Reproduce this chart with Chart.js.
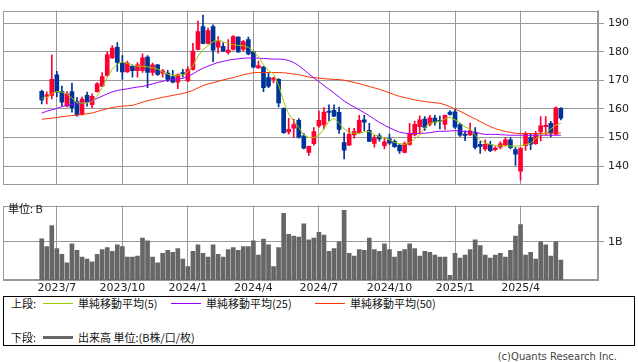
<!DOCTYPE html>
<html><head><meta charset="utf-8">
<script src="https://cdn.jsdelivr.net/npm/chart.js@4/dist/chart.umd.min.js"></script>
<style>
html,body{margin:0;padding:0;background:#fff;}
body{width:638px;height:362px;overflow:hidden;position:relative;font-family:"DejaVu Sans",sans-serif;}
#w1{position:absolute;left:0;top:0;width:638px;height:195px;}
#w2{position:absolute;left:0;top:195px;width:638px;height:100px;}
.t{position:absolute;font-family:"Noto Sans CJK JP",sans-serif;font-size:11px;line-height:13px;color:#111;white-space:nowrap;}
.ln{position:absolute;height:1px;width:30px;}
#box{position:absolute;left:3px;top:296px;width:630px;height:48px;border:1px solid #000;}
#copy{position:absolute;right:21px;top:350px;font-family:"DejaVu Sans",sans-serif;font-size:10px;line-height:13px;color:#444;}
</style></head>
<body>
<div id="w1"><canvas id="c1" width="638" height="195"></canvas></div>
<div id="w2"><canvas id="c2" width="638" height="100"></canvas></div>
<div class="t" style="left:8px;top:202px;">単位: B</div>
<div id="box"></div>
<div class="t" style="left:11px;top:297px;">上段:</div>
<div class="ln" style="left:43px;top:303px;background:#99cc00;"></div>
<div class="t" style="left:78px;top:297px;">単純移動平均(5)</div>
<div class="ln" style="left:171px;top:303px;background:#9900ff;"></div>
<div class="t" style="left:206px;top:297px;">単純移動平均(25)</div>
<div class="ln" style="left:315px;top:303px;background:#ff3300;"></div>
<div class="t" style="left:350px;top:297px;">単純移動平均(50)</div>
<div class="t" style="left:11px;top:331px;">下段:</div>
<div class="ln" style="left:43px;top:336px;height:3px;background:#666;"></div>
<div class="t" style="left:78px;top:331px;">出来高 単位:(B株/口/枚)</div>
<div id="copy">(c)Quants Research Inc.</div>
<script>
// Weekly data, index 0 = week of 2023/6/12 ... index 103 = week of 2025/6/2
const monthTickIndex = [3, 16, 29, 42, 55, 69, 82, 95];
const monthTickLabels = ['2023/7','2023/10','2024/1','2024/4','2024/7','2024/10','2025/1','2025/4'];
const priceTicks = [140, 150, 160, 170, 180, 190];
const volumeTicks = [1];
const volumeTickLabels = ['1B'];

const opens = [166.2,164.4,164.8,172.0,166.2,161.0,166.1,162.6,158.0,164.8,161.5,166.1,168.0,171.8,177.9,181.6,176.1,173.0,175.0,173.4,
173.4,178.2,172.8,175.5,172.6,172.6,171.4,169.4,172.8,169.8,173.9,180.9,188.9,183.0,188.9,181.7,182.0,179.8,180.9,185.2,
180.9,184.3,180.0,174.4,174.7,171.0,170.4,170.4,160.2,152.0,153.3,156.0,150.6,144.8,147.8,154.1,154.5,159.3,159.5,158.8,
148.2,147.3,150.9,151.8,156.2,152.5,147.9,150.6,147.1,149.5,148.7,147.3,144.8,147.6,150.9,153.8,156.5,154.7,156.8,156.0,
154.6,158.9,159.0,154.5,151.2,150.9,151.9,147.6,146.0,147.6,145.7,146.6,147.4,149.2,145.8,138.2,147.1,150.0,147.8,152.0,
153.8,155.0,151.2,160.2];
const highs = [166.6,166.0,179.0,173.2,168.0,166.1,169.1,164.0,164.2,165.9,165.3,169.3,172.8,180.0,182.2,183.3,178.7,176.8,175.5,176.3,
179.3,178.7,176.1,175.7,173.9,173.6,173.6,172.3,173.9,174.8,183.0,190.8,192.9,188.4,189.5,185.4,183.2,184.3,185.7,185.4,
184.1,185.2,180.3,176.8,175.0,172.8,171.2,170.7,160.4,156.7,156.4,156.6,151.4,147.0,153.5,159.3,160.5,161.5,161.5,160.7,
151.6,153.3,153.2,157.8,157.8,155.0,150.8,151.4,149.8,151.2,149.2,147.6,148.5,155.0,155.8,157.6,157.3,157.8,157.8,157.5,
157.9,159.4,160.0,155.1,152.3,155.1,153.5,148.7,149.2,148.7,146.8,148.5,150.0,150.0,146.6,146.4,152.0,151.4,152.2,157.3,
157.3,155.7,160.8,160.5];
const lows = [161.8,161.8,163.5,164.3,161.2,160.7,158.9,157.5,157.8,161.0,160.5,165.9,167.8,171.4,177.7,173.2,170.4,172.8,171.2,171.2,
172.8,167.5,171.8,171.8,171.2,169.6,169.1,167.1,171.2,169.6,173.6,180.7,182.8,182.8,176.6,179.6,180.3,179.2,180.6,179.8,
180.3,179.0,174.4,174.2,166.1,167.5,169.1,160.7,151.4,151.2,150.0,149.8,146.0,143.7,147.3,153.5,153.0,155.9,157.3,151.4,
142.5,147.1,149.8,151.6,152.4,148.5,146.6,148.7,146.0,147.6,146.5,144.4,144.6,147.3,150.6,151.5,152.5,154.1,154.3,153.0,
152.8,157.8,153.2,150.4,148.9,150.7,146.0,144.4,145.3,145.0,145.3,146.0,147.1,146.0,140.2,135.0,145.5,145.7,147.6,148.8,
150.9,150.2,150.9,156.2];
const closes = [163.2,165.0,170.4,165.9,162.4,165.3,160.5,157.8,163.5,162.6,164.4,168.8,171.4,179.1,181.4,176.3,173.0,176.1,173.4,175.5,
177.9,172.8,175.5,172.1,173.4,170.4,169.4,172.1,172.3,173.9,180.3,187.1,183.0,187.5,180.6,183.6,180.3,180.7,185.4,180.0,
183.6,179.3,174.7,175.2,167.5,168.0,170.8,162.1,151.7,152.9,154.5,150.0,146.3,146.9,152.1,156.0,158.9,158.8,157.5,152.8,
145.6,151.1,152.2,156.0,155.4,148.6,150.0,149.5,148.5,148.0,146.8,145.3,147.9,151.2,154.6,156.2,153.5,156.9,155.4,155.7,
157.8,158.1,153.6,150.8,150.7,152.4,146.5,146.9,147.6,145.4,146.3,147.8,149.2,146.4,144.2,146.3,151.2,147.7,151.0,154.1,
154.3,151.7,160.4,156.8];
const volumes = [1.08,0.875,1.425,0.825,0.675,0.45,0.95,0.775,0.6,0.55,0.475,0.675,0.8,0.85,0.75,0.925,0.875,0.6,0.6,0.625,
1.1,1.025,0.6,0.45,0.7,0.775,0.725,0.825,0.55,0.35,0.75,0.925,0.7,0.6,0.925,0.675,0.6,0.8,0.85,0.775,
0.875,0.875,1.025,0.65,1.075,0.925,0.35,0.85,1.75,1.2,1.15,1.125,1.475,1.05,1.1,1.25,1.175,0.75,0.825,1.0,
1.825,0.7,0.625,0.8,0.775,1.1,0.8,0.75,0.95,0.8,0.6,0.75,0.8,0.95,0.825,0.625,0.75,0.725,0.65,0.6,
0.6,0.125,0.7,0.575,0.65,0.8,1.05,0.9,0.65,0.575,0.65,0.7,0.6,0.775,1.15,1.45,0.65,0.725,0.55,1.0,
0.925,0.625,1.0,0.525];
const ma5 = [163.7,164.0,165.5,166.1,166.0,165.3,163.8,162.2,162.1,162.1,162.6,164.5,167.5,171.0,174.0,175.7,176.6,176.0,175.2,175.0,
175.0,174.8,174.5,174.0,173.0,172.2,171.8,171.8,171.9,173.0,175.2,178.5,180.8,182.2,183.6,184.3,183.6,183.0,182.5,182.3,
182.2,181.6,180.3,178.3,175.5,173.5,172.3,168.5,162.6,158.3,155.7,153.5,150.8,150.0,150.0,150.8,153.0,155.7,156.7,155.0,
153.0,151.8,151.5,151.4,152.0,152.1,151.0,150.3,149.8,149.2,148.3,147.8,147.6,148.2,149.5,150.8,153.5,155.0,155.4,155.6,
156.5,157.1,156.2,155.1,153.7,153.0,150.8,149.0,148.0,147.6,147.2,147.1,147.0,147.0,147.0,147.1,147.5,148.0,149.6,151.0,
151.6,153.0,154.3,155.1];
const ma25 = [158.6,159.2,159.7,160.2,160.8,161.4,161.6,161.8,162.1,162.5,163.0,163.7,164.5,165.3,166.0,166.5,166.8,167.1,167.4,167.7,
167.9,168.3,168.8,169.3,169.7,170.1,170.3,170.5,170.7,171.4,172.3,173.4,174.3,175.0,175.7,176.3,176.7,177.1,177.4,177.6,
177.8,177.9,177.9,177.8,177.7,177.6,177.5,177.5,177.4,177.0,176.3,175.2,173.8,172.3,170.9,169.6,168.2,166.9,165.6,164.2,
162.8,161.7,160.7,159.7,158.7,157.6,156.4,155.3,154.3,153.4,152.6,151.9,151.5,151.4,151.4,151.4,151.5,151.7,152.0,152.2,
152.2,152.3,152.4,152.3,152.1,152.0,151.8,151.4,151.1,151.1,151.1,151.0,150.9,150.8,150.8,150.8,150.8,150.8,150.8,150.8,
150.8,150.8,150.8,150.8];
const ma50 = [156.4,156.6,156.8,157.0,157.3,157.5,157.7,157.9,158.1,158.3,158.6,159.1,159.6,160.1,160.5,160.8,161.0,161.1,161.3,161.8,
162.4,162.9,163.3,163.7,164.1,164.4,164.8,165.1,165.4,165.9,166.5,167.4,168.2,168.8,169.2,169.7,170.2,170.6,171.0,171.5,
172.0,172.4,172.7,172.8,172.8,172.8,172.8,172.8,172.7,172.5,172.3,172.0,171.6,171.2,171.0,170.8,170.6,170.5,170.4,170.3,
170.1,169.7,169.3,168.9,168.4,167.9,167.4,166.9,166.3,165.7,165.0,164.4,164.0,163.6,163.2,162.9,162.6,162.4,162.2,162.0,
161.5,160.8,160.0,159.2,158.3,157.4,156.5,155.6,154.7,153.8,153.1,152.6,152.1,151.8,151.5,151.4,151.4,151.4,151.4,151.4,
151.5,151.5,151.6,151.6];

const UP = '#ff0033', DOWN = '#003399', GRID = '#999999';
const xMin = -7.68, xMax = 110.37;
const candleColor = opens.map((o, i) => closes[i] >= o ? UP : DOWN);

const frame = {
  id: 'frame',
  beforeDatasetsDraw(chart) {
    const a = chart.chartArea, c = chart.ctx;
    c.save(); c.strokeStyle = GRID; c.lineWidth = 1;
    c.strokeRect(Math.round(a.left) + 0.5, Math.round(a.top) + 0.5, Math.round(a.right - a.left) - 1, Math.round(a.bottom - a.top) - 1);
    c.restore();
  }
};
const tickFont = {family: 'DejaVu Sans', size: 11};

function xScale(showLabels, h) {
  return {
    type: 'linear', min: xMin, max: xMax, offset: false,
    afterBuildTicks: s => { s.ticks = monthTickIndex.map(v => ({value: v})); },
    afterFit: s => { s.height = h; },
    ticks: {display: showLabels, autoSkip: false, maxRotation: 0, padding: 2, font: tickFont, color: '#222',
      callback: (v) => { const k = monthTickIndex.indexOf(v); return k >= 0 ? monthTickLabels[k] : ''; }},
    grid: {color: GRID, drawTicks: false, offset: false},
    border: {display: true, color: GRID}
  };
}

const pt = arr => arr.map((v, i) => ({x: i, y: v}));

new Chart(document.getElementById('c1'), {
  type: 'bar',
  data: {datasets: [
    {type: 'line', data: pt(ma5), borderColor: '#99cc00', borderWidth: 1, pointRadius: 0, tension: 0, order: 0},
    {type: 'line', data: pt(ma25), borderColor: '#9900ff', borderWidth: 1, pointRadius: 0, tension: 0, order: 0},
    {type: 'line', data: pt(ma50), borderColor: '#ff3300', borderWidth: 1, pointRadius: 0, tension: 0, order: 0},
    {data: opens.map((o, i) => ({x: i, y: [o, closes[i]]})), backgroundColor: candleColor, barThickness: 4, grouped: false, minBarLength: 1, order: 2},
    {data: lows.map((l, i) => ({x: i, y: [l, highs[i]]})), backgroundColor: candleColor, barThickness: 1, grouped: false, order: 3}
  ]},
  options: {
    responsive: false, animation: false, events: [],
    plugins: {legend: {display: false}, tooltip: {enabled: false}},
    layout: {padding: {left: 3, top: 1, right: 0, bottom: 0}},
    scales: {
      x: xScale(false, 5),
      y: {position: 'right', min: 133.56, max: 194.5,
        afterBuildTicks: s => { s.ticks = priceTicks.map(v => ({value: v})); },
        afterFit: s => { s.width = 40; },
        ticks: {font: tickFont, color: '#222', padding: 4},
        grid: {color: GRID, tickLength: 6}, border: {color: GRID}}
    }
  },
  plugins: [frame]
});

new Chart(document.getElementById('c2'), {
  type: 'bar',
  data: {datasets: [
    {data: pt(volumes), backgroundColor: '#666666', barThickness: 4, grouped: false}
  ]},
  options: {
    responsive: false, animation: false, events: [],
    plugins: {legend: {display: false}, tooltip: {enabled: false}},
    layout: {padding: {left: 3, top: 7, right: 0, bottom: 0}},
    scales: {
      x: xScale(true, 15),
      y: {position: 'right', min: 0, max: 1.95,
        afterBuildTicks: s => { s.ticks = volumeTicks.map(v => ({value: v})); },
        afterFit: s => { s.width = 40; },
        ticks: {font: tickFont, color: '#222', padding: 4,
          callback: v => { const k = volumeTicks.indexOf(v); return k >= 0 ? volumeTickLabels[k] : ''; }},
        grid: {color: GRID, tickLength: 6}, border: {color: GRID}}
    }
  },
  plugins: [frame]
});
</script>
</body></html>
